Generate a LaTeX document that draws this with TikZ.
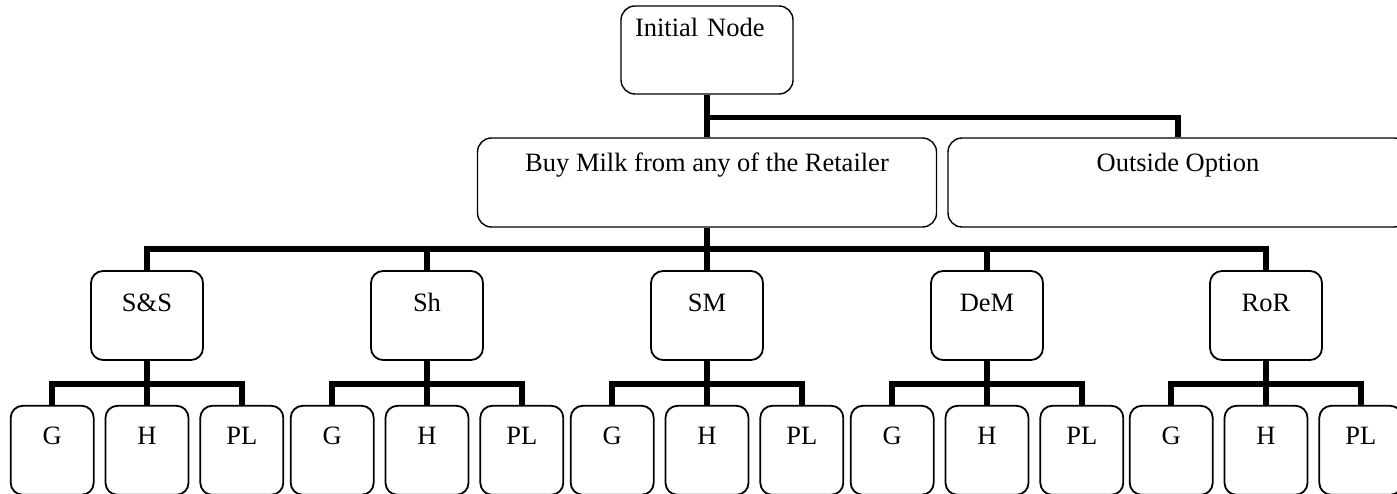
\documentclass[tikz,border=0pt]{standalone}
\usepackage{fontspec}
\setmainfont{Liberation Serif}
\usetikzlibrary{positioning}
\tikzset{
      myrootblock/.style={
        draw,
        line width=1.4pt,
        rounded corners=14pt,
        align=left,
        text width=144pt,
        inner xsep=14pt,
        inner ysep=0pt,
        text height=31pt,
        text depth=57pt
      },
      mychoiceblock/.style={
        draw,
        line width=1.4pt,
        rounded corners=14pt,
        inner sep=0pt,
        minimum width=#1,
        text height=34pt,
        text depth=55pt
      },
      myretblock/.style={
        draw,
        line width=1.8pt,
        rounded corners=12pt,
        inner sep=0pt,
        minimum width=112pt,
        text height=41pt,
        text depth=48pt
      },
      myleafblock/.style={
        draw,
        line width=1.8pt,
        rounded corners=12pt,
        inner sep=0pt,
        minimum width=83pt,
        text height=39pt,
        text depth=50pt
      },
      myconn/.style={
        line width=5.5pt
      },
    }
\begin{document}
\begin{tikzpicture}[x=1pt,y=1pt,font=\fontsize{26.5}{31}\selectfont,node distance=44pt and 10pt]

            \clip (0,0) rectangle (1397,-494);

            %Arrel
            \node[myrootblock] (init) at (707,-50) {Initial Node};
            \node[mychoiceblock=459pt] (buy) at (707,-182.5) {Buy Milk from any of the Retailer};
            \node[mychoiceblock=460pt] (outside) at (1178,-182.5) {Outside Option};

            %Retailer S&S
            \begin{scope}[xshift=147pt]
              \node[myretblock] (ss) at (0,-315.5) {S\&S};
              \node[myleafblock,below=of ss] (ssH) {H};
              \node[myleafblock,left=of ssH] (ssG) {G};
              \node[myleafblock,right=of ssH] (ssPL) {PL};
              \draw[myconn] (ss) -- (ssH);
              \draw[myconn] (ssG.north) -- ++(0,21) -| (ssPL.north);
            \end{scope}

            %Retailer Sh
            \begin{scope}[xshift=427pt]
              \node[myretblock] (sh) at (0,-315.5) {Sh};
              \node[myleafblock,below=of sh] (shH) {H};
              \node[myleafblock,left=of shH] (shG) {G};
              \node[myleafblock,right=of shH] (shPL) {PL};
              \draw[myconn] (sh) -- (shH);
              \draw[myconn] (shG.north) -- ++(0,21) -| (shPL.north);
            \end{scope}

            %Retailer SM
            \begin{scope}[xshift=707pt]
              \node[myretblock] (sm) at (0,-315.5) {SM};
              \node[myleafblock,below=of sm] (smH) {H};
              \node[myleafblock,left=of smH] (smG) {G};
              \node[myleafblock,right=of smH] (smPL) {PL};
              \draw[myconn] (sm) -- (smH);
              \draw[myconn] (smG.north) -- ++(0,21) -| (smPL.north);
            \end{scope}

            %Retailer DeM
            \begin{scope}[xshift=987pt]
              \node[myretblock] (dem) at (0,-315.5) {DeM};
              \node[myleafblock,below=of dem] (demH) {H};
              \node[myleafblock,left=of demH] (demG) {G};
              \node[myleafblock,right=of demH] (demPL) {PL};
              \draw[myconn] (dem) -- (demH);
              \draw[myconn] (demG.north) -- ++(0,21) -| (demPL.north);
            \end{scope}

            %Retailer RoR
            \begin{scope}[xshift=1266pt]
              \node[myretblock] (ror) at (0,-315.5) {RoR};
              \node[myleafblock,below=of ror] (rorH) {H};
              \node[myleafblock,left=of rorH] (rorG) {G};
              \node[myleafblock,right=of rorH] (rorPL) {PL};
              \draw[myconn] (ror) -- (rorH);
              \draw[myconn] (rorG.north) -- ++(0,21) -| (rorPL.north);
            \end{scope}

            \draw[myconn] (init) -- (buy);
            \draw[myconn] (init.south) -- ++(0,-23) -| (outside.north);
            \draw[myconn] (buy) -- (sm);
            \draw[myconn] (ss.north) -- ++(0,21) -| (ror.north);
            \draw[myconn] (sh.north) -- ++(0,21);
            \draw[myconn] (dem.north) -- ++(0,21);

          \end{tikzpicture}
\end{document}
